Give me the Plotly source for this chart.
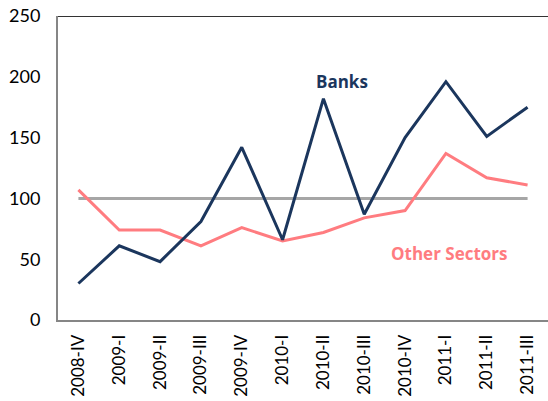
import plotly.graph_objects as go

categories = ["2008-IV", "2009-I", "2009-II", "2009-III", "2009-IV", "2010-I",
              "2010-II", "2010-III", "2010-IV", "2011-I", "2011-II", "2011-III"]
banks = [30, 61, 48, 81, 142, 66, 182, 87, 150, 196, 151, 175]
other_sectors = [107, 74, 74, 61, 76, 65, 72, 84, 90, 137, 117, 111]
baseline = [100] * len(categories)

NAVY = "#1B365D"
SALMON = "#FF7C80"

fig = go.Figure()
fig.add_trace(go.Scatter(x=categories, y=baseline, mode="lines",
                         line=dict(color="#A6A6A6", width=3), showlegend=False))
fig.add_trace(go.Scatter(x=categories, y=other_sectors, mode="lines",
                         line=dict(color=SALMON, width=3), showlegend=False))
fig.add_trace(go.Scatter(x=categories, y=banks, mode="lines",
                         line=dict(color=NAVY, width=3), showlegend=False))

fig.add_annotation(x=6.46, y=196, text="<b>Banks</b>", showarrow=False,
                   font=dict(family="Open Sans", size=17, color=NAVY))
fig.add_annotation(x=9.08, y=55, text="<b>Other Sectors</b>", showarrow=False,
                   font=dict(family="Open Sans", size=17, color=SALMON))

fig.add_shape(type="line", xref="paper", yref="y", x0=0, x1=1, y0=250, y1=250,
              line=dict(color="#333333", width=2))

fig.update_layout(
    width=548, height=401,
    margin=dict(l=58, r=0, t=16, b=81, autoexpand=False),
    plot_bgcolor="white", paper_bgcolor="white",
    font=dict(family="Lato", size=17, color="#000000"),
    xaxis=dict(type="category", range=[-0.5, 11.5], showgrid=False,
               showline=True, linecolor="#868686", linewidth=2,
               tickangle=-90, ticks="", ticklabelstandoff=6, automargin=False,
               tickfont=dict(size=17)),
    yaxis=dict(range=[0, 250], dtick=50, showgrid=False, zeroline=False,
               showline=True, linecolor="#868686", linewidth=2, automargin=False,
               ticks="", ticklabelstandoff=12, ticklabeloverflow="allow",
               tickfont=dict(size=18)),
)

# remove the default 8px page margin so the figure fills the window exactly
fig.write_html("out.html", config={"displayModeBar": False},
               post_script="document.body.style.margin='0';document.body.style.overflow='hidden';")
